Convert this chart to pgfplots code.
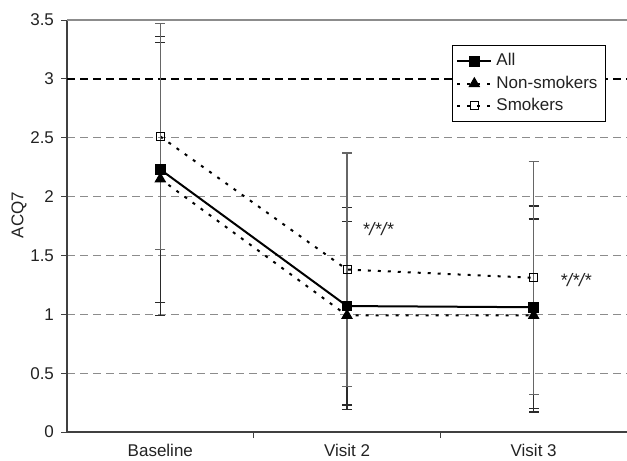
\documentclass[border=0pt]{standalone}
\usepackage{pgfplots}
\pgfplotsset{compat=1.18}
\usepackage{fontspec}
\setmainfont{Liberation Sans}
\definecolor{txt}{HTML}{222222}
\definecolor{gridgray}{HTML}{8C8C8C}
\definecolor{barc}{HTML}{2A2A2A}
\definecolor{barl}{HTML}{666666}
\begin{document}
\begin{tikzpicture}
\begin{axis}[
  scale only axis,
  width=280pt, height=206pt,
  xmin=-0.5, xmax=2.5,
  ymin=0, ymax=3.5,
  axis x line*=bottom,
  axis y line*=left,
  axis line style={black!75, line width=0.6pt},
  xtick={0,1,2},
  xticklabels={Baseline,Visit 2,Visit 3},
  major x tick style={draw=none},
  minor xtick={0.5,1.5},
  minor x tick style={black!75, line width=0.5pt},
  minor tick length=3pt,
  ytick={0,0.5,1,1.5,2,2.5,3.5},
  extra y ticks={3},
  extra y tick style={grid style={black, dash pattern=on 4pt off 2.5pt, line width=0.8pt}},
  yticklabel style={/pgf/number format/.cd, fixed, assume math mode=true},
  tick align=outside,
  tick pos=left,
  major tick length=3pt,
  ytick style={black!75, line width=0.5pt},
  ymajorgrids,
  grid style={gridgray, dash pattern=on 4pt off 2.5pt, line width=0.6pt},
  tick label style={font=\fontsize{8.5}{10}\selectfont, text=txt},
  xticklabel style={yshift=0.5pt},
  ylabel={ACQ7},
  ylabel style={font=\fontsize{8.5}{10}\selectfont, text=txt, at={(axis description cs:-0.0857,0.527)}, anchor=center},
  legend style={at={(0.9625,0.939)}, anchor=north east, draw=black, line width=0.5pt, fill=white,
    font=\fontsize{8.5}{10}\selectfont, text=txt, cells={anchor=west}, row sep=-0.5pt, inner sep=2pt},
  legend cell align=left,
  clip=false,
]
\draw[gridgray, line width=0.6pt] (axis cs:-0.5,3.5) -- (axis cs:2.5,3.5);
% All
\addplot[black, line width=1pt, mark=square*, mark size=2.2pt, mark options={solid, fill=black},
  error bars/.cd, y dir=both, y explicit,
  error bar style={barc, line width=0.6pt, solid},
  error mark options={barc, mark size=2.5pt, line width=0.6pt, rotate=90}]
  table[x=x, y=y, y error=e] {
x y e
0 2.23 1.13
1 1.07 0.84
2 1.06 0.86
};
\addlegendentry{All}
% Non-smokers
\addplot[black, line width=1pt, dash pattern=on 1.5pt off 3.5pt, mark=triangle*, mark size=2.4pt, mark options={solid, fill=black},
  error bars/.cd, y dir=both, y explicit,
  error bar style={barc, line width=0.6pt, solid},
  error mark options={barc, mark size=2.5pt, line width=0.6pt, rotate=90}]
  table[x=x, y=y, y error=e] {
x y e
0 2.15 1.16
1 0.99 0.80
2 0.99 0.82
};
\addlegendentry{Non-smokers}
% Smokers
\addplot[black, line width=1pt, dash pattern=on 1.5pt off 3.5pt, mark=square, mark size=2pt, mark options={solid, fill=white, line width=0.5pt},
  error bars/.cd, y dir=both, y explicit,
  error bar style={barl, line width=0.6pt, solid},
  error mark options={barl, mark size=2.5pt, line width=0.6pt, rotate=90}]
  table[x=x, y=y, y error=e] {
x y e
0 2.51 0.96
1 1.38 0.99
2 1.31 0.99
};
\addlegendentry{Smokers}
\node[anchor=west, font=\fontsize{9}{10}\selectfont\itshape, text=txt, inner sep=0pt] at (axis cs:1.08,1.72) {*/*/*};
\node[anchor=west, font=\fontsize{9}{10}\selectfont\itshape, text=txt, inner sep=0pt] at (axis cs:2.14,1.29) {*/*/*};
\end{axis}
\pgfresetboundingbox
\path[use as bounding box] ([xshift=-33.5pt,yshift=-14pt]current axis.south west) rectangle ([yshift=10pt]current axis.north east);
\end{tikzpicture}
\end{document}
